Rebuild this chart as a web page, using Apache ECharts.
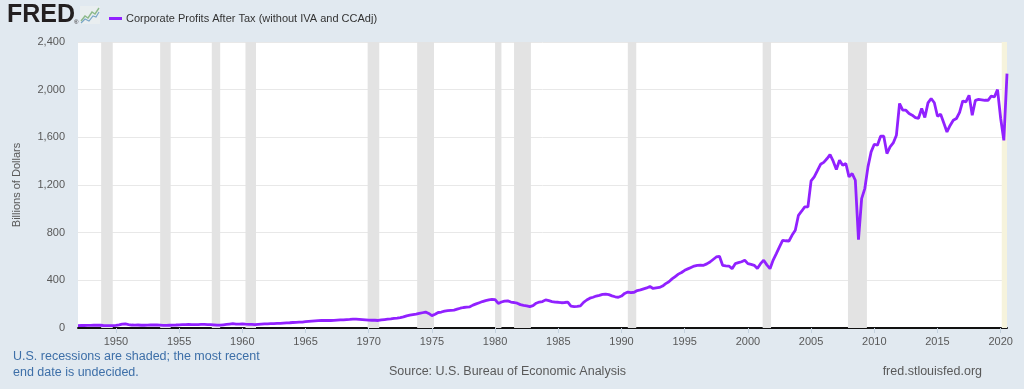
<!DOCTYPE html>
<html><head><meta charset="utf-8">
<script src="https://cdn.jsdelivr.net/npm/echarts@6/dist/echarts.min.js"></script>
<style>html,body{margin:0;padding:0;background:#e1e9f0;}#c{width:1024px;height:389px;}</style>
</head><body><div id="c"></div>
<script>
// Quarterly data, first observation 1947 Q1
const startYear = 1947;
const seriesName = 'Corporate Profits After Tax (without IVA and CCAdj)';
const values = [
  20, 21, 21, 22,      // 1947
  22, 23, 24, 23,      // 1948
  21, 20, 20, 20,      // 1949
  22, 26, 32, 34,      // 1950
  28, 25, 24, 25,      // 1951
  23, 23, 24, 25,      // 1952
  25, 25, 24, 22,      // 1953
  22, 23, 24, 25,      // 1954
  27, 28, 29, 30,      // 1955
  29, 29, 29, 30,      // 1956
  30, 29, 29, 27,      // 1957
  24, 24, 27, 30,      // 1958
  33, 36, 33, 33,      // 1959
  34, 32, 31, 30,      // 1960
  29, 31, 33, 35,      // 1961
  35, 36, 37, 38,      // 1962
  39, 41, 43, 44,      // 1963
  46, 48, 49, 50,      // 1964
  54, 56, 58, 60,      // 1965
  62, 63, 63, 64,      // 1966
  63, 64, 66, 68,      // 1967
  69, 71, 72, 74,      // 1968
  74, 73, 71, 69,      // 1969
  66, 65, 65, 63,      // 1970
  68, 71, 74, 76,      // 1971
  80, 83, 87, 93,      // 1972
  102, 108, 112, 116,  // 1973
  122, 128, 134, 122,  // 1974
  104, 115, 130, 134,  // 1975
  142, 146, 148, 150,  // 1976
  158, 166, 172, 176,  // 1977
  178, 192, 202, 212,  // 1978
  222, 230, 236, 240,  // 1979
  238, 206, 218, 226,  // 1980
  228, 218, 214, 208,  // 1981
  196, 190, 186, 180,  // 1982
  188, 208, 218, 222,  // 1983
  236, 230, 222, 218,  // 1984
  216, 212, 214, 218,  // 1985
  184, 180, 182, 186,  // 1986
  215, 235, 250, 258,  // 1987
  268, 274, 282, 285,  // 1988
  280, 270, 262, 258,  // 1989
  268, 290, 302, 296,  // 1990
  300, 314, 320, 328,  // 1991
  336, 348, 332, 336,  // 1992
  340, 352, 372, 388,  // 1993
  412, 432, 452, 466,  // 1994
  484, 496, 508, 520,  // 1995
  526, 528, 526, 538,  // 1996
  554, 575, 596, 602,  // 1997
  526, 522, 520, 498,  // 1998
  540, 548, 556, 568,  // 1999
  540, 534, 526, 500,  // 2000
  540, 568, 530, 498,  // 2001
  570, 624, 680, 736,  // 2002
  732, 730, 780, 820,  // 2003
  946, 980, 1016, 1016,    // 2004
  1234, 1268, 1320, 1374,  // 2005
  1390, 1420, 1455, 1400,  // 2006
  1330, 1408, 1366, 1380,  // 2007
  1268, 1296, 1240, 742,   // 2008
  1086, 1170, 1352, 1478,  // 2009
  1542, 1534, 1609, 1609,  // 2010
  1464, 1520, 1553, 1618,  // 2011
  1884, 1828, 1828, 1800,  // 2012
  1786, 1766, 1760, 1842,  // 2013
  1766, 1889, 1926, 1890,  // 2014
  1777, 1794, 1720, 1645,  // 2015
  1700, 1743, 1758, 1810,  // 2016
  1905, 1897, 1953, 1786,  // 2017
  1911, 1918, 1915, 1911,  // 2018
  1911, 1945, 1939, 2001,  // 2019
  1758, 1575, 2135         // 2020
];
const yTicks = [0, 400, 800, 1200, 1600, 2000, 2400];
const xTickYears = [1950, 1955, 1960, 1965, 1970, 1975, 1980, 1985, 1990, 1995, 2000, 2005, 2010, 2015, 2020];
const recessions = [
  ['1948-11', '1949-10'], ['1953-07', '1954-05'], ['1957-08', '1958-04'],
  ['1960-04', '1961-02'], ['1969-12', '1970-11'], ['1973-11', '1975-03'],
  ['1980-01', '1980-07'], ['1981-07', '1982-11'], ['1990-07', '1991-03'],
  ['2001-03', '2001-11'], ['2007-12', '2009-06']
];
const openRecession = ['2020-02', '2020-07'];

function ym(s) { const p = s.split('-'); return +p[0] + (+p[1] - 1) / 12; }
const xMin = startYear;
const xMax = startYear + (values.length - 1) / 4;
const lineData = values.map((v, i) => [startYear + i / 4, v]);

const areas = recessions.map(r => [{ xAxis: ym(r[0]) }, { xAxis: ym(r[1]) }]);
areas.push([{ xAxis: ym(openRecession[0]), itemStyle: { color: '#f6f3dc' } }, { xAxis: ym(openRecession[1]) }]);

const chart = echarts.init(document.getElementById('c'), null, { renderer: 'canvas' });
const gray = '#595959';
const font = 'Liberation Sans, Arial, sans-serif';
chart.setOption({
  backgroundColor: '#e1e9f0',
  animation: false,
  textStyle: { fontFamily: font },
  grid: { left: 78, right: 17, top: 42, bottom: 61, show: true, backgroundColor: '#ffffff', borderWidth: 0 },
  legend: {
    left: 104, top: 8, itemWidth: 13, itemHeight: 3, icon: 'rect', itemGap: 4,
    textStyle: { color: '#333', fontSize: 11, fontFamily: font, padding: [0, 0, 0, -1] },
    data: [seriesName]
  },
  xAxis: {
    type: 'value', min: xMin, max: xMax,
    axisLine: { show: true, onZero: false, lineStyle: { color: '#111', width: 2 } },
    axisTick: { show: true, length: 5, lineStyle: { color: '#c3d1de' }, customValues: xTickYears },
    axisLabel: { color: gray, fontSize: 11, margin: 8, customValues: xTickYears, formatter: v => String(Math.round(v)) },
    splitLine: { show: false }
  },
  yAxis: {
    type: 'value', min: 0, max: 2400, interval: 400,
    name: 'Billions of Dollars', nameLocation: 'middle', nameGap: 56, nameRotate: 90,
    nameTextStyle: { color: gray, fontSize: 11 },
    axisLine: { show: false }, axisTick: { show: false },
    axisLabel: { color: gray, fontSize: 11, margin: 13, formatter: v => v.toLocaleString('en-US') },
    splitLine: { lineStyle: { color: '#e8e8e8', width: 1 } }
  },
  series: [
    {
      type: 'line', name: 'recessions', data: [], z: 1, silent: true,
      markArea: { silent: true, itemStyle: { color: '#e3e3e3' }, data: areas }
    },
    {
      type: 'line', name: seriesName, data: lineData, z: 3,
      showSymbol: false, symbol: 'none',
      lineStyle: { color: '#9121ff', width: 2.8 }, itemStyle: { color: '#9121ff' }
    }
  ],
  graphic: [
    { type: 'text', left: 7, top: 3, style: { text: 'FRED', font: '900 25px Liberation Sans, Arial, sans-serif', fill: '#231f20' } },
    { type: 'text', left: 74, top: 19, style: { text: '®', font: '6px Liberation Sans, Arial', fill: '#231f20' } },
    { type: 'rect', shape: { x: 80, y: 6, width: 20, height: 18 }, style: { fill: '#e9eef0' } },
    { type: 'polyline', shape: { points: [[81, 21], [85, 16], [88, 18], [92, 12], [95, 14], [99, 8]] }, style: { stroke: '#8db98a', lineWidth: 1.4, fill: null } },
    { type: 'polyline', shape: { points: [[81, 23], [85, 19], [89, 21], [93, 16], [96, 17], [99, 12]] }, style: { stroke: '#7aa6c8', lineWidth: 1.2, fill: null } },
    { type: 'text', left: 13, top: 349, style: { text: 'U.S. recessions are shaded; the most recent\nend date is undecided.', font: '12.5px Liberation Sans, Arial, sans-serif', fill: '#3d6fa8', lineHeight: 16 } },
    { type: 'text', left: 389, top: 365, style: { text: 'Source: U.S. Bureau of Economic Analysis', font: '12.5px Liberation Sans, Arial, sans-serif', fill: gray } },
    { type: 'text', right: 42, top: 365, style: { text: 'fred.stlouisfed.org', font: '12.5px Liberation Sans, Arial, sans-serif', fill: gray } }
  ]
});
</script></body></html>
